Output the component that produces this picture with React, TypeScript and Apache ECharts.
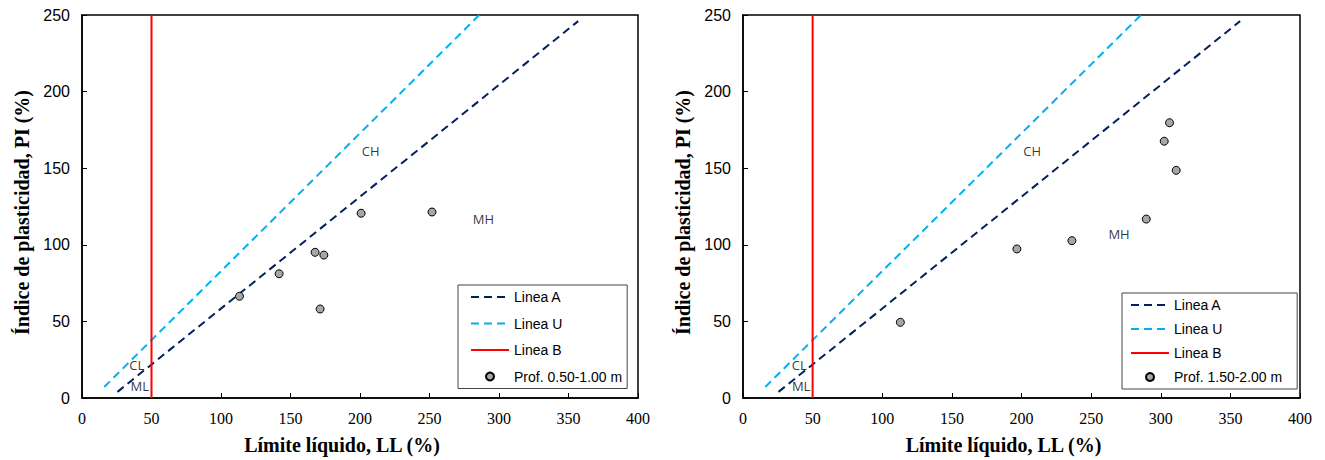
import React, { useEffect, useRef } from "react";
import * as echarts from "echarts";

// Reference lines (LL %, PI %)
const lineA: number[][] = [[25.5, 4], [357, 246]];
const lineU: number[][] = [[16, 7.2], [285.8, 250]];
const lineB: number[][] = [[50, 0], [50, 250]];

// Samples
const nameLeft = "Prof. 0.50-1.00 m";
const pointsLeft: number[][] = [
  [113.3, 66.4], [141.8, 81.1], [167.7, 95.1], [174, 93.3],
  [171.3, 58.1], [200.8, 120.6], [251.8, 121.4],
];
const nameRight = "Prof. 1.50-2.00 m";
const pointsRight: number[][] = [
  [306.3, 179.7], [302.5, 167.6], [311.1, 148.6], [289.6, 116.8],
  [236.2, 102.7], [196.7, 97.3], [113, 49.4],
];

// Zone labels [LL, PI, text]
const zonesLeft: (number | string)[][] = [
  [39.8, 21.5, "CL"], [41.9, 7.2, "ML"], [208, 160.6, "CH"], [289.2, 116.2, "MH"],
];
const zonesRight: (number | string)[][] = [
  [40.7, 21.5, "CL"], [42.1, 7.2, "ML"], [208, 160.6, "CH"], [270.4, 107, "MH"],
];

const xTitle = "Límite líquido, LL (%)";
const yTitle = "Índice de plasticidad, PI (%)";

function axisX(gridIndex: number) {
  return {
    type: "value", gridIndex, min: 0, max: 400, interval: 50,
    name: xTitle, nameLocation: "middle", nameGap: 37,
    nameTextStyle: {
      fontFamily: "Liberation Serif", fontWeight: "bold", fontSize: 20, color: "#000",
      padding: [0, 36, 0, 0],
    },
    axisLine: { show: true, lineStyle: { color: "#000", width: 1.5 } },
    axisTick: { show: true, inside: true, length: 5, lineStyle: { color: "#000" } },
    axisLabel: { fontFamily: "Liberation Serif", fontSize: 16, color: "#000", margin: 12 },
    splitLine: { show: false },
  };
}
function axisY(gridIndex: number) {
  return {
    type: "value", gridIndex, min: 0, max: 250, interval: 50,
    name: yTitle, nameLocation: "middle", nameGap: 50, nameRotate: 90,
    nameTextStyle: {
      fontFamily: "Liberation Serif", fontWeight: "bold", fontSize: 20, color: "#000",
      padding: [0, 12, 0, 0],
    },
    axisLine: { show: true, lineStyle: { color: "#000", width: 1.5 } },
    axisTick: { show: true, inside: true, length: 5, lineStyle: { color: "#000" } },
    axisLabel: { fontFamily: "Liberation Sans", fontSize: 16, color: "#000", margin: 12 },
    splitLine: { show: false },
  };
}

function seriesFor(i: number, pname: string, pts: number[][], zones: (number | string)[][]) {
  return [
    {
      name: "Linea A", type: "line", xAxisIndex: i, yAxisIndex: i, data: lineA, symbol: "none",
      lineStyle: { color: "#002060", width: 2, type: [8, 5] }, itemStyle: { color: "#002060" },
    },
    {
      name: "Linea U", type: "line", xAxisIndex: i, yAxisIndex: i, data: lineU, symbol: "none",
      lineStyle: { color: "#00b0f0", width: 2, type: [8, 5] }, itemStyle: { color: "#00b0f0" },
    },
    {
      name: "Linea B", type: "line", xAxisIndex: i, yAxisIndex: i, data: lineB, symbol: "none",
      lineStyle: { color: "#ff0000", width: 2, type: "solid" }, itemStyle: { color: "#ff0000" },
    },
    {
      name: pname, type: "scatter", xAxisIndex: i, yAxisIndex: i, data: pts, symbolSize: 8,
      itemStyle: { color: "#a6a6a6", borderColor: "#000", borderWidth: 1, opacity: 1 },
      z: 5,
    },
    {
      name: "zones" + i, type: "scatter", xAxisIndex: i, yAxisIndex: i, data: zones,
      symbolSize: 1, silent: true, itemStyle: { color: "rgba(0,0,0,0)" },
      label: {
        show: true, position: [0, 0], align: "center", verticalAlign: "middle",
        formatter: (p: any) => p.value[2],
        fontFamily: "Open Sans", fontSize: 13, color: "#000",
      },
    },
  ];
}

function legendFor(left: number, top: number, pname: string, gap: number, padding: number[]) {
  const noSym = { opacity: 0 };
  return {
    orient: "vertical", left, top, itemWidth: 38, itemHeight: 8, itemGap: gap,
    padding, backgroundColor: "#fff", borderColor: "#444", borderWidth: 1,
    textStyle: { fontFamily: "Liberation Sans", fontSize: 14, color: "#000" },
    data: [
      { name: "Linea A", itemStyle: noSym },
      { name: "Linea U", itemStyle: noSym },
      { name: "Linea B", itemStyle: noSym },
      { name: pname },
    ],
    selectedMode: false,
  };
}

export default function App() {
  const ref = useRef<HTMLDivElement>(null);
  useEffect(() => {
    document.body.style.margin = "0";
    const chart = echarts.init(ref.current!, null, { renderer: "svg" });
    chart.setOption({
      animation: false,
      backgroundColor: "#fff",
      grid: [
        { left: 82, top: 15, width: 556, height: 383, show: true, borderColor: "#000", borderWidth: 1.5 },
        { left: 743, top: 15, width: 557, height: 383, show: true, borderColor: "#000", borderWidth: 1.5 },
      ],
      xAxis: [axisX(0), axisX(1)],
      yAxis: [axisY(0), axisY(1)],
      legend: [
        legendFor(458, 285, nameLeft, 12.5, [5, 5, 5, 12]),
        legendFor(1122, 293, nameRight, 10, [5, 15, 5, 8]),
      ],
      series: [
        ...seriesFor(0, nameLeft, pointsLeft, zonesLeft),
        ...seriesFor(1, nameRight, pointsRight, zonesRight),
      ],
    });
    return () => chart.dispose();
  }, []);
  return <div ref={ref} style={{ width: 1325, height: 460 }} />;
}
